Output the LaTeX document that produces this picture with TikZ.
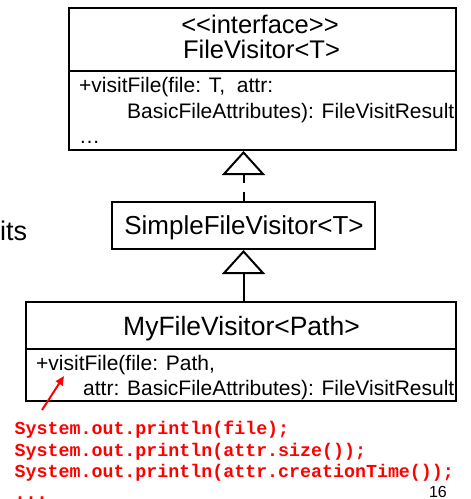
\documentclass[tikz,border=0pt]{standalone}
\usepackage{fontspec}
\setmainfont{Liberation Sans}
\setmonofont{Liberation Mono}
\usetikzlibrary{arrows.meta}
\definecolor{codered}{RGB}{255,0,0}
\begin{document}
\begin{tikzpicture}[x=1pt,y=-1pt,
  box/.style={draw, line width=2pt, inner sep=0pt},
  title/.style={inner sep=0pt, anchor=base, font=\fontsize{25.5}{30}\selectfont},
  member/.style={inner sep=0pt, anchor=base west, font=\fontsize{21}{25}\selectfont},
  code/.style={inner sep=0pt, anchor=base west, text=codered, font=\ttfamily\bfseries\fontsize{18.3}{22}\selectfont},
  inherit/.style={line width=2pt, -{Triangle[open, length=24pt, width=43pt]}},
  pointer/.style={draw=codered, line width=2pt, -{Triangle[length=9pt, width=8pt]}},
]
\useasboundingbox (0,0) rectangle (471,499);

% interface FileVisitor<T>
\node[box, minimum width=387pt, minimum height=142pt] (fv) at (262.5,79) {};
\draw[line width=2pt] (fv.west |- 0,71) -- (fv.east |- 0,71);
\node[title] (fvstereo) at (260,33) {<{}<interface>{}>};
\node[title] (fvname) at (261.5,58) {FileVisitor<T>};
\node[member] (fvm1) at (79,92) {+visitFile(file: T,\ \ attr:};
\node[member] (fvm2) at (127,118) {BasicFileAttributes): FileVisitResult};
\node[member] (fvm3) at (79,143) {…};

% class SimpleFileVisitor<T>
\node[box, minimum width=263pt, minimum height=47pt] (sfv) at (243.5,225.5) {};
\node[title, font=\fontsize{26}{30}\selectfont] (sfvname) at (244,234) {SimpleFileVisitor<T>};

% class MyFileVisitor<Path>
\node[box, minimum width=430pt, minimum height=99pt] (mfv) at (241,351.5) {};
\draw[line width=2pt] (mfv.west |- 0,349) -- (mfv.east |- 0,349);
\node[title, font=\fontsize{26.5}{31}\selectfont] (mfvname) at (241.5,335) {MyFileVisitor<Path>};
\node[member] (mfvm1) at (36,370) {+visitFile(file: Path,};
\node[member] (mfvm2) at (83,395) {attr: BasicFileAttributes): FileVisitResult};

% realization and generalization
\draw[inherit, dash pattern=on 9pt off 9pt] (sfv.north) -- (sfv.north |- fv.south);
\draw[inherit] (sfv.south |- mfv.north) -- (sfv.south);

% body of visitFile
\node[code] (c1) at (14.5,434.5) {System.out.println(file);};
\node[code] (c2) at (14.5,456) {System.out.println(attr.size());};
\node[code] (c3) at (14.5,477.5) {System.out.println(attr.creationTime());};
\node[code] (c4) at (14.5,499) {...};
\coordinate (ptail) at (42,410);
\coordinate (phead) at (64,376);
\draw[pointer] (ptail) -- (phead);

% side text and page number
\node[inner sep=0pt, anchor=base west, font=\fontsize{27}{32}\selectfont] (side) at (0,240) {its};
\node[inner sep=0pt, anchor=base, font=\fontsize{16}{19}\selectfont] (page) at (438,497) {16};
\end{tikzpicture}
\end{document}
